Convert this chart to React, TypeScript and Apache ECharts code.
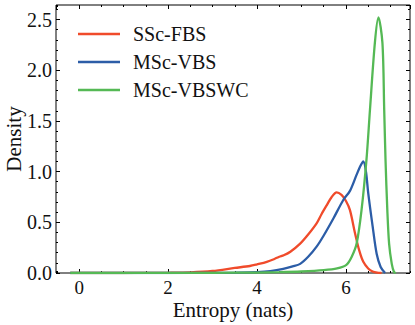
import React, { useEffect, useRef } from "react";
import * as echarts from "echarts";

const seriesNames = ["SSc-FBS", "MSc-VBS", "MSc-VBSWC"];
const seriesColors = ["#F04B2B", "#2C5DA7", "#55B955"];

const fbsX = [-0.2, 0.5, 1.0, 1.5, 2.0, 2.5, 3.0, 3.5, 3.84, 4.0, 4.22, 4.4, 4.5, 4.6, 4.75, 4.97, 5.15, 5.34, 5.45, 5.57, 5.68, 5.79, 5.9, 6.0, 6.09, 6.2, 6.3, 6.39, 6.5, 6.6, 6.7, 6.8];
const fbsY = [0, 0, 0, 0.001, 0.002, 0.006, 0.02, 0.05, 0.069, 0.085, 0.11, 0.14, 0.16, 0.175, 0.21, 0.29, 0.38, 0.49, 0.58, 0.67, 0.75, 0.795, 0.77, 0.71, 0.62, 0.4, 0.22, 0.11, 0.045, 0.015, 0.003, 0];

const vbsX = [-0.2, 1.0, 2.0, 3.0, 3.5, 4.0, 4.3, 4.59, 4.8, 4.97, 5.15, 5.34, 5.5, 5.72, 5.94, 6.09, 6.24, 6.33, 6.39, 6.45, 6.5, 6.6, 6.69, 6.78, 6.88];
const vbsY = [0, 0, 0, 0.001, 0.003, 0.008, 0.018, 0.04, 0.065, 0.09, 0.16, 0.26, 0.37, 0.54, 0.72, 0.81, 0.97, 1.06, 1.10, 1.0, 0.79, 0.46, 0.19, 0.06, 0];

const vbswcX = [-0.2, 1.0, 2.0, 3.0, 4.0, 4.5, 5.0, 5.5, 5.8, 6.01, 6.13, 6.24, 6.35, 6.46, 6.54, 6.65, 6.73, 6.82, 6.86, 6.89, 6.93, 6.97, 7.03, 7.08, 7.12];
const vbswcY = [0, 0, 0.001, 0.002, 0.004, 0.008, 0.015, 0.028, 0.045, 0.08, 0.16, 0.29, 0.62, 1.11, 1.61, 2.27, 2.52, 2.27, 1.61, 1.11, 0.62, 0.29, 0.09, 0.01, 0];

const xMin = -0.52;
const xMax = 7.44;
const yMin = 0;
const yMax = 2.643;

const FONT = "Liberation Serif";

function zip(xs: number[], ys: number[]) {
  return xs.map((x, i) => [x, ys[i]]);
}

export default function App() {
  const ref = useRef<HTMLDivElement>(null);
  useEffect(() => {
    if (!ref.current) return;
    const chart = echarts.init(ref.current, undefined, { renderer: "svg" });
    const tickStyle = { color: "#000", width: 1 };
    const noLine = { show: false, onZero: false };
    const noSplit = { show: false };
    const xBase = { type: "value" as const, min: xMin, max: xMax, axisLine: noLine, splitLine: noSplit };
    const yBase = { type: "value" as const, min: yMin, max: yMax, axisLine: noLine, splitLine: noSplit };
    const major = { show: true, inside: true, length: 4, lineStyle: tickStyle };
    const minor = { show: true, inside: true, length: 2, lineStyle: tickStyle };
    const allX = [fbsX, vbsX, vbswcX];
    const allY = [fbsY, vbsY, vbswcY];
    chart.setOption({
      animation: false,
      backgroundColor: "#fff",
      grid: {
        left: 56, right: 5, top: 5, bottom: 52,
        show: true, borderColor: "#000", borderWidth: 1, backgroundColor: "transparent",
        outerBoundsMode: "none", containLabel: false,
      },
      legend: {
        orient: "vertical",
        left: 73,
        top: 19,
        icon: "rect",
        itemWidth: 42,
        itemHeight: 2.5,
        itemGap: 8,
        data: seriesNames,
        textStyle: { fontFamily: FONT, fontSize: 20, color: "#111", padding: [0, 0, 0, 8], lineHeight: 20 },
      },
      xAxis: [
        {
          ...xBase,
          position: "bottom",
          splitNumber: 4,
          axisTick: major,
          axisLabel: { fontFamily: FONT, fontSize: 19, lineHeight: 19, color: "#111", margin: 5, showMinLabel: false, showMaxLabel: false },
          name: "Entropy (nats)",
          nameLocation: "middle",
          nameGap: 26,
          nameMoveOverlap: false,
          nameTextStyle: { fontFamily: FONT, fontSize: 21, lineHeight: 21, color: "#111" },
        },
        { ...xBase, position: "bottom", splitNumber: 16, axisTick: minor, axisLabel: { show: false } },
        { ...xBase, position: "top", splitNumber: 4, axisTick: major, axisLabel: { show: false } },
        { ...xBase, position: "top", splitNumber: 16, axisTick: minor, axisLabel: { show: false } },
      ],
      yAxis: [
        {
          ...yBase,
          position: "left",
          interval: 0.5,
          axisTick: major,
          axisLabel: { fontFamily: FONT, fontSize: 20, color: "#111", margin: 4, showMaxLabel: false, formatter: (v: number) => v.toFixed(1) },
          name: "Density",
          nameLocation: "middle",
          nameGap: 32,
          nameMoveOverlap: false,
          nameTextStyle: { fontFamily: FONT, fontSize: 21, lineHeight: 21, color: "#111" },
        },
        { ...yBase, position: "left", interval: 0.1, axisTick: minor, axisLabel: { show: false } },
        { ...yBase, position: "right", interval: 0.5, axisTick: major, axisLabel: { show: false } },
        { ...yBase, position: "right", interval: 0.1, axisTick: minor, axisLabel: { show: false } },
      ],
      series: seriesNames.map((name, i) => ({
        name,
        type: "line",
        xAxisIndex: 0,
        yAxisIndex: 0,
        data: zip(allX[i], allY[i]),
        symbol: "none",
        showSymbol: false,
        smooth: 0.3,
        color: seriesColors[i],
        lineStyle: { width: 2.3, color: seriesColors[i] },
        z: 2 + i,
      })),
    });
    return () => chart.dispose();
  }, []);
  return <div ref={ref} style={{ position: "fixed", left: 0, top: 0, width: 415, height: 325 }} />;
}
